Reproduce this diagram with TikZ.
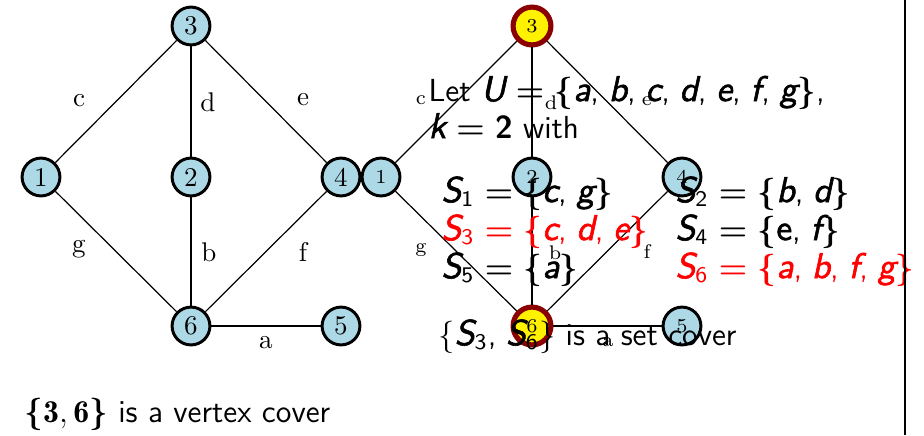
\documentclass[tikz,border=0pt]{standalone}
\usepackage{fontspec}
\newfontfamily\vfont{lmsans10-oblique.otf}[FakeBold=1.6, Scale=1.12]
\newfontfamily\vfontup{lmsans10-regular.otf}[FakeBold=1.6, Scale=1.12]
\definecolor{vlblue}{HTML}{ADD8E6}
\definecolor{hlred}{HTML}{8B0000}
\newcommand\mv[1]{{\vfont #1}}
\newcommand\eq{\mbox{\boldmath$\;=\;$}}
\newcommand\lb{\mbox{\boldmath$\{$}}
\newcommand\rb{\mbox{\boldmath$\}$}}
\newcommand\Ss[1]{\mv{S}\textsubscript{#1}}
\newcommand\cm{,\hspace{0.3em}}
\tikzset{
  x=0.37pt, y=-0.37pt,
  vtx/.style={circle, draw=black, line width=1.1pt, fill=vlblue, minimum size=14pt, inner sep=0pt, font=\fontsize{10}{12}\selectfont},
  vtxs/.style={vtx, font=\fontsize{7.3}{8.8}\selectfont},
  hl/.style={fill=yellow, draw=hlred, line width=1.9pt},
  edge/.style={draw=black, line width=0.45pt},
  elab/.style={font=\fontsize{10}{12}\selectfont, inner sep=0pt},
  elabs/.style={font=\fontsize{7.3}{8.8}\selectfont, inner sep=0pt},
  txt/.style={anchor=base west, inner sep=0pt, font=\sffamily\fontsize{11.8}{14}\selectfont},
}
\begin{document}
\begin{tikzpicture}
\useasboundingbox (0,0) rectangle (924,435);
% left graph
\node[vtx] (l1) at (41,177) {1};
\node[vtx] (l2) at (191,177) {2};
\node[vtx] (l3) at (191,26) {3};
\node[vtx] (l4) at (341,177) {4};
\node[vtx] (l6) at (191,326) {6};
\node[vtx] (l5) at (341,326) {5};
\draw[edge] (l1) -- (l3);
\draw[edge] (l3) -- (l2);
\draw[edge] (l3) -- (l4);
\draw[edge] (l1) -- (l6);
\draw[edge] (l2) -- (l6);
\draw[edge] (l4) -- (l6);
\draw[edge] (l6) -- (l5);
\node[elab] (lc) at (79,101) {c};
\node[elab] (ld) at (208,102) {d};
\node[elab] (le) at (303,100) {e};
\node[elab] (lg) at (79,249) {g};
\node[elab] (lb) at (209,252) {b};
\node[elab] (lf) at (303,252) {f};
\node[elab] (la) at (266,343) {a};
% right graph
\node[vtxs] (r1) at (381,177) {1};
\node[vtxs] (r2) at (532,177) {2};
\node[vtxs,hl] (r3) at (532,26) {3};
\node[vtxs] (r4) at (682,177) {4};
\node[vtxs,hl] (r6) at (532,326) {6};
\node[vtxs] (r5) at (682,326) {5};
\draw[edge] (r1) -- (r3);
\draw[edge] (r3) -- (r2);
\draw[edge] (r3) -- (r4);
\draw[edge] (r1) -- (r6);
\draw[edge] (r2) -- (r6);
\draw[edge] (r4) -- (r6);
\draw[edge] (r6) -- (r5);
\node[elabs] (rc) at (421,100) {c};
\node[elabs] (rd) at (551,103) {d};
\node[elabs] (re) at (647,101) {e};
\node[elabs] (rg) at (421,250) {g};
\node[elabs] (rb) at (555,253) {b};
\node[elabs] (rf) at (647,252) {f};
\node[elabs] (ra) at (608,342) {a};
% texts
\node[txt] (t1) at (428,101) {Let \mv{U}\eq\lb\mv{a}\cm\mv{b}\cm\mv{c}\cm\mv{d}\cm\mv{e}\cm\mv{f}\cm\mv{g}\rb,};
\node[txt] (t2) at (428,138) {\mv{k}\eq\textbf{2} with};
\node[txt] (s1) at (441,202) {\Ss{1}\eq\lb\mv{c}\cm\mv{g}\rb};
\node[txt] (s2) at (675,202) {\Ss{2}\eq\lb\mv{b}\cm\mv{d}\rb};
\node[txt, text=red] (s3) at (441,240) {\Ss{3}\eq\lb\mv{c}\cm\mv{d}\cm\mv{e}\rb};
\node[txt] (s4) at (675,240) {\Ss{4}\eq\lb{\vfontup e}\cm\mv{f}\rb};
\node[txt] (s5) at (441,278) {\Ss{5}\eq\lb\mv{a}\rb};
\node[txt, text=red] (s6) at (675,278) {\Ss{6}\eq\lb\mv{a}\cm\mv{b}\cm\mv{f}\cm\mv{g}\rb};
\node[txt] (sc) at (438,345) {$\{$\Ss{3}\cm\Ss{6}$\}$ is a set cover};
\node[txt] (vc) at (24,422) {\lb$\mathbf{3},\mathbf{6}$\rb\ is a vertex cover};
% right rule
\coordinate (rt) at (905,0);
\coordinate (rbot) at (905,435);
\draw[line width=0.6pt] (rt) -- (rbot);
\end{tikzpicture}
\end{document}
